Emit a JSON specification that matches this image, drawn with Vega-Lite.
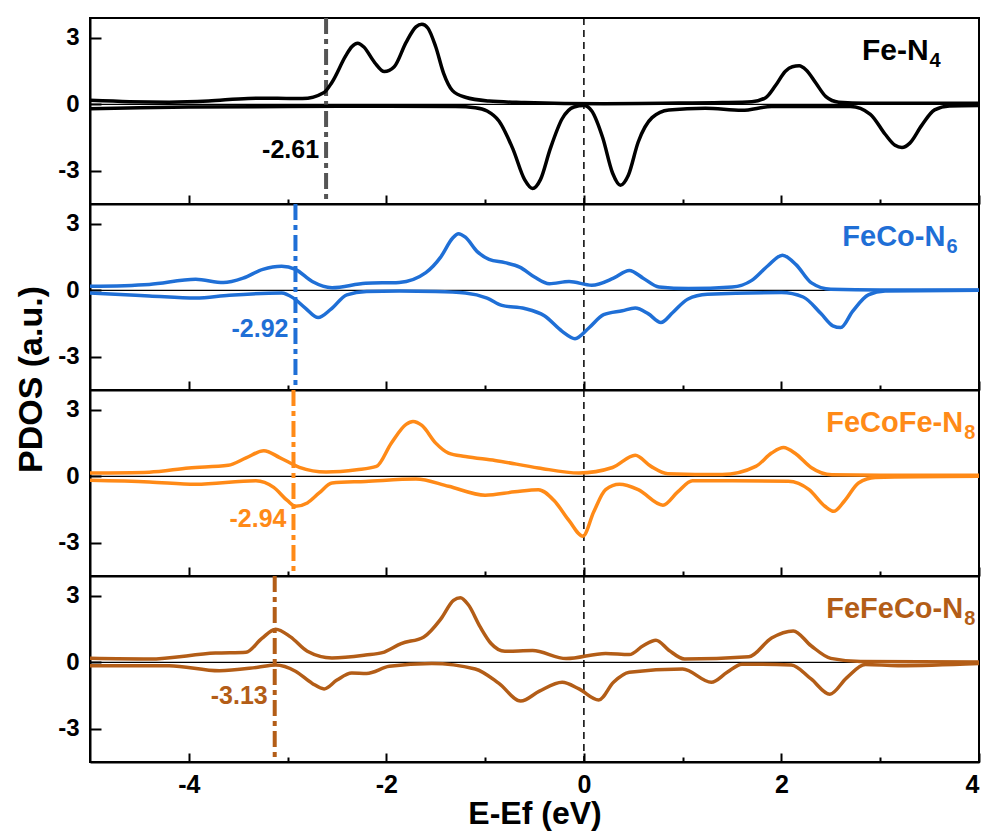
{
  "$schema": "https://vega.github.io/schema/vega-lite/v6.json",
  "padding": {"left": 14, "top": 15, "right": 10, "bottom": 3},
  "spacing": 0,
  "bounds": "flush",
  "title": {"text": "PDOS (a.u.)", "orient": "left", "anchor": "middle", "font": "Liberation Sans", "fontSize": 34, "fontWeight": "bold", "color": "black", "offset": 8, "dx": 43},
  "config": {
    "locale": {"number": {"decimal": ".", "thousands": ",", "grouping": [3], "currency": ["$", ""], "minus": "-"}},
    "view": {"stroke": "black", "strokeWidth": 2},
    "axis": {"domainColor": "black", "domainWidth": 2, "tickColor": "black", "tickWidth": 2, "grid": false,
      "labelFont": "Liberation Sans", "labelFontSize": 24, "labelFontWeight": "bold", "labelColor": "black",
      "titleFont": "Liberation Sans", "titleFontWeight": "bold", "titleColor": "black"},
    "text": {"font": "Liberation Sans"}
  },
  "datasets": {
    "bands": [
      {"panel": 1, "center": -2.61},
      {"panel": 2, "center": -2.92},
      {"panel": 3, "center": -2.94},
      {"panel": 4, "center": -3.13}
    ],
    "p1": [
      {"spin":"up","E":-5.0,"DOS":0.18},{"spin":"up","E":-4.6,"DOS":0.12},{"spin":"up","E":-4.2,"DOS":0.1},{"spin":"up","E":-3.8,"DOS":0.15},{"spin":"up","E":-3.4,"DOS":0.27},{"spin":"up","E":-3.1,"DOS":0.28},{"spin":"up","E":-2.85,"DOS":0.26},{"spin":"up","E":-2.63,"DOS":0.54},{"spin":"up","E":-2.55,"DOS":1.0},{"spin":"up","E":-2.41,"DOS":2.2},{"spin":"up","E":-2.35,"DOS":2.6},{"spin":"up","E":-2.29,"DOS":2.76},{"spin":"up","E":-2.23,"DOS":2.6},{"spin":"up","E":-2.12,"DOS":1.9},{"spin":"up","E":-2.02,"DOS":1.48},{"spin":"up","E":-1.92,"DOS":1.7},{"spin":"up","E":-1.8,"DOS":2.8},{"spin":"up","E":-1.7,"DOS":3.5},{"spin":"up","E":-1.64,"DOS":3.62},{"spin":"up","E":-1.58,"DOS":3.45},{"spin":"up","E":-1.5,"DOS":2.6},{"spin":"up","E":-1.42,"DOS":1.4},{"spin":"up","E":-1.33,"DOS":0.62},{"spin":"up","E":-1.2,"DOS":0.32},{"spin":"up","E":-0.96,"DOS":0.15},{"spin":"up","E":-0.6,"DOS":0.08},{"spin":"up","E":-0.2,"DOS":0.04},{"spin":"up","E":0.2,"DOS":0.03},{"spin":"up","E":0.8,"DOS":0.05},{"spin":"up","E":1.4,"DOS":0.08},{"spin":"up","E":1.7,"DOS":0.12},{"spin":"up","E":1.84,"DOS":0.3},{"spin":"up","E":1.94,"DOS":0.85},{"spin":"up","E":2.04,"DOS":1.5},{"spin":"up","E":2.11,"DOS":1.7},{"spin":"up","E":2.18,"DOS":1.74},{"spin":"up","E":2.25,"DOS":1.55},{"spin":"up","E":2.35,"DOS":0.95},{"spin":"up","E":2.45,"DOS":0.35},{"spin":"up","E":2.58,"DOS":0.1},{"spin":"up","E":2.85,"DOS":0.05},{"spin":"up","E":3.4,"DOS":0.05},{"spin":"up","E":4.0,"DOS":0.05},
      {"spin":"down","E":-5.0,"DOS":-0.2},{"spin":"down","E":-4.5,"DOS":-0.15},{"spin":"down","E":-4.0,"DOS":-0.12},{"spin":"down","E":-3.0,"DOS":-0.1},{"spin":"down","E":-2.0,"DOS":-0.08},{"spin":"down","E":-1.3,"DOS":-0.1},{"spin":"down","E":-1.1,"DOS":-0.15},{"spin":"down","E":-0.98,"DOS":-0.3},{"spin":"down","E":-0.86,"DOS":-0.75},{"spin":"down","E":-0.72,"DOS":-2.0},{"spin":"down","E":-0.6,"DOS":-3.4},{"spin":"down","E":-0.52,"DOS":-3.8},{"spin":"down","E":-0.44,"DOS":-3.4},{"spin":"down","E":-0.34,"DOS":-2.0},{"spin":"down","E":-0.22,"DOS":-0.65},{"spin":"down","E":-0.1,"DOS":-0.12},{"spin":"down","E":0.0,"DOS":-0.05},{"spin":"down","E":0.08,"DOS":-0.3},{"spin":"down","E":0.19,"DOS":-1.5},{"spin":"down","E":0.29,"DOS":-3.1},{"spin":"down","E":0.37,"DOS":-3.65},{"spin":"down","E":0.45,"DOS":-3.2},{"spin":"down","E":0.55,"DOS":-1.7},{"spin":"down","E":0.69,"DOS":-0.6},{"spin":"down","E":0.86,"DOS":-0.25},{"spin":"down","E":1.23,"DOS":-0.18},{"spin":"down","E":1.6,"DOS":-0.27},{"spin":"down","E":1.9,"DOS":-0.1},{"spin":"down","E":2.7,"DOS":-0.1},{"spin":"down","E":2.9,"DOS":-0.45},{"spin":"down","E":3.05,"DOS":-1.35},{"spin":"down","E":3.15,"DOS":-1.85},{"spin":"down","E":3.22,"DOS":-1.95},{"spin":"down","E":3.3,"DOS":-1.75},{"spin":"down","E":3.42,"DOS":-0.95},{"spin":"down","E":3.55,"DOS":-0.25},{"spin":"down","E":3.7,"DOS":-0.07},{"spin":"down","E":4.0,"DOS":-0.05}
    ],
    "p2": [
      {"spin":"up","E":-5.0,"DOS":0.18},{"spin":"up","E":-4.4,"DOS":0.27},{"spin":"up","E":-3.93,"DOS":0.5},{"spin":"up","E":-3.65,"DOS":0.35},{"spin":"up","E":-3.45,"DOS":0.55},{"spin":"up","E":-3.25,"DOS":0.95},{"spin":"up","E":-3.06,"DOS":1.09},{"spin":"up","E":-2.92,"DOS":0.95},{"spin":"up","E":-2.75,"DOS":0.4},{"spin":"up","E":-2.55,"DOS":0.12},{"spin":"up","E":-2.21,"DOS":0.32},{"spin":"up","E":-1.87,"DOS":0.36},{"spin":"up","E":-1.6,"DOS":0.8},{"spin":"up","E":-1.45,"DOS":1.5},{"spin":"up","E":-1.33,"DOS":2.35},{"spin":"up","E":-1.27,"DOS":2.56},{"spin":"up","E":-1.2,"DOS":2.4},{"spin":"up","E":-1.08,"DOS":1.75},{"spin":"up","E":-0.96,"DOS":1.4},{"spin":"up","E":-0.8,"DOS":1.25},{"spin":"up","E":-0.65,"DOS":1.05},{"spin":"up","E":-0.5,"DOS":0.6},{"spin":"up","E":-0.35,"DOS":0.3},{"spin":"up","E":-0.15,"DOS":0.4},{"spin":"up","E":0.08,"DOS":0.23},{"spin":"up","E":0.3,"DOS":0.55},{"spin":"up","E":0.46,"DOS":0.9},{"spin":"up","E":0.6,"DOS":0.55},{"spin":"up","E":0.76,"DOS":0.15},{"spin":"up","E":1.06,"DOS":0.08},{"spin":"up","E":1.5,"DOS":0.15},{"spin":"up","E":1.7,"DOS":0.45},{"spin":"up","E":1.86,"DOS":1.1},{"spin":"up","E":2.01,"DOS":1.59},{"spin":"up","E":2.15,"DOS":1.15},{"spin":"up","E":2.3,"DOS":0.35},{"spin":"up","E":2.5,"DOS":0.05},{"spin":"up","E":3.0,"DOS":0.02},{"spin":"up","E":4.0,"DOS":0.02},
      {"spin":"down","E":-5.0,"DOS":-0.12},{"spin":"down","E":-4.4,"DOS":-0.25},{"spin":"down","E":-3.93,"DOS":-0.35},{"spin":"down","E":-3.59,"DOS":-0.22},{"spin":"down","E":-3.06,"DOS":-0.12},{"spin":"down","E":-2.94,"DOS":-0.35},{"spin":"down","E":-2.82,"DOS":-0.8},{"spin":"down","E":-2.69,"DOS":-1.23},{"spin":"down","E":-2.56,"DOS":-0.85},{"spin":"down","E":-2.4,"DOS":-0.2},{"spin":"down","E":-2.2,"DOS":-0.05},{"spin":"down","E":-1.87,"DOS":-0.03},{"spin":"down","E":-1.5,"DOS":-0.05},{"spin":"down","E":-1.2,"DOS":-0.12},{"spin":"down","E":-0.98,"DOS":-0.35},{"spin":"down","E":-0.83,"DOS":-0.68},{"spin":"down","E":-0.6,"DOS":-0.82},{"spin":"down","E":-0.4,"DOS":-1.15},{"spin":"down","E":-0.22,"DOS":-1.85},{"spin":"down","E":-0.09,"DOS":-2.18},{"spin":"down","E":0.05,"DOS":-1.7},{"spin":"down","E":0.2,"DOS":-1.1},{"spin":"down","E":0.39,"DOS":-0.92},{"spin":"down","E":0.52,"DOS":-0.8},{"spin":"down","E":0.65,"DOS":-1.05},{"spin":"down","E":0.78,"DOS":-1.45},{"spin":"down","E":0.9,"DOS":-1.0},{"spin":"down","E":1.05,"DOS":-0.4},{"spin":"down","E":1.25,"DOS":-0.18},{"spin":"down","E":2.0,"DOS":-0.1},{"spin":"down","E":2.22,"DOS":-0.3},{"spin":"down","E":2.4,"DOS":-1.05},{"spin":"down","E":2.52,"DOS":-1.6},{"spin":"down","E":2.6,"DOS":-1.68},{"spin":"down","E":2.72,"DOS":-0.95},{"spin":"down","E":2.88,"DOS":-0.2},{"spin":"down","E":3.05,"DOS":-0.03},{"spin":"down","E":4.0,"DOS":0.0}
    ],
    "p3": [
      {"spin":"up","E":-5.0,"DOS":0.15},{"spin":"up","E":-4.4,"DOS":0.19},{"spin":"up","E":-4.0,"DOS":0.38},{"spin":"up","E":-3.6,"DOS":0.5},{"spin":"up","E":-3.42,"DOS":0.83},{"spin":"up","E":-3.24,"DOS":1.16},{"spin":"up","E":-3.08,"DOS":0.85},{"spin":"up","E":-2.88,"DOS":0.41},{"spin":"up","E":-2.61,"DOS":0.2},{"spin":"up","E":-2.3,"DOS":0.3},{"spin":"up","E":-2.1,"DOS":0.45},{"spin":"up","E":-1.95,"DOS":1.5},{"spin":"up","E":-1.8,"DOS":2.35},{"spin":"up","E":-1.73,"DOS":2.48},{"spin":"up","E":-1.64,"DOS":2.3},{"spin":"up","E":-1.5,"DOS":1.5},{"spin":"up","E":-1.37,"DOS":1.05},{"spin":"up","E":-1.2,"DOS":0.9},{"spin":"up","E":-0.9,"DOS":0.72},{"spin":"up","E":-0.46,"DOS":0.38},{"spin":"up","E":-0.05,"DOS":0.15},{"spin":"up","E":0.29,"DOS":0.4},{"spin":"up","E":0.52,"DOS":0.95},{"spin":"up","E":0.68,"DOS":0.45},{"spin":"up","E":0.85,"DOS":0.12},{"spin":"up","E":1.4,"DOS":0.08},{"spin":"up","E":1.74,"DOS":0.45},{"spin":"up","E":1.9,"DOS":1.05},{"spin":"up","E":2.02,"DOS":1.3},{"spin":"up","E":2.15,"DOS":1.0},{"spin":"up","E":2.3,"DOS":0.4},{"spin":"up","E":2.51,"DOS":0.07},{"spin":"up","E":3.0,"DOS":0.05},{"spin":"up","E":4.0,"DOS":0.05},
      {"spin":"down","E":-5.0,"DOS":-0.18},{"spin":"down","E":-4.4,"DOS":-0.25},{"spin":"down","E":-3.93,"DOS":-0.36},{"spin":"down","E":-3.32,"DOS":-0.2},{"spin":"down","E":-3.14,"DOS":-0.5},{"spin":"down","E":-3.0,"DOS":-1.1},{"spin":"down","E":-2.92,"DOS":-1.35},{"spin":"down","E":-2.8,"DOS":-1.2},{"spin":"down","E":-2.68,"DOS":-0.75},{"spin":"down","E":-2.55,"DOS":-0.3},{"spin":"down","E":-2.21,"DOS":-0.23},{"spin":"down","E":-1.7,"DOS":-0.12},{"spin":"down","E":-1.37,"DOS":-0.45},{"spin":"down","E":-1.0,"DOS":-0.85},{"spin":"down","E":-0.7,"DOS":-0.7},{"spin":"down","E":-0.46,"DOS":-0.6},{"spin":"down","E":-0.3,"DOS":-1.1},{"spin":"down","E":-0.15,"DOS":-2.0},{"spin":"down","E":-0.01,"DOS":-2.7},{"spin":"down","E":0.1,"DOS":-1.6},{"spin":"down","E":0.22,"DOS":-0.6},{"spin":"down","E":0.36,"DOS":-0.36},{"spin":"down","E":0.55,"DOS":-0.6},{"spin":"down","E":0.8,"DOS":-1.3},{"spin":"down","E":0.95,"DOS":-0.7},{"spin":"down","E":1.1,"DOS":-0.2},{"spin":"down","E":2.07,"DOS":-0.22},{"spin":"down","E":2.28,"DOS":-0.6},{"spin":"down","E":2.44,"DOS":-1.35},{"spin":"down","E":2.53,"DOS":-1.58},{"spin":"down","E":2.64,"DOS":-1.1},{"spin":"down","E":2.78,"DOS":-0.3},{"spin":"down","E":2.95,"DOS":-0.05},{"spin":"down","E":4.0,"DOS":0.0}
    ],
    "p4": [
      {"spin":"up","E":-5.0,"DOS":0.18},{"spin":"up","E":-4.4,"DOS":0.15},{"spin":"up","E":-3.73,"DOS":0.42},{"spin":"up","E":-3.42,"DOS":0.46},{"spin":"up","E":-3.26,"DOS":1.08},{"spin":"up","E":-3.12,"DOS":1.5},{"spin":"up","E":-2.97,"DOS":1.15},{"spin":"up","E":-2.8,"DOS":0.5},{"spin":"up","E":-2.55,"DOS":0.2},{"spin":"up","E":-2.21,"DOS":0.33},{"spin":"up","E":-2.04,"DOS":0.44},{"spin":"up","E":-1.85,"DOS":0.85},{"spin":"up","E":-1.62,"DOS":1.15},{"spin":"up","E":-1.45,"DOS":1.95},{"spin":"up","E":-1.32,"DOS":2.8},{"spin":"up","E":-1.25,"DOS":2.92},{"spin":"up","E":-1.17,"DOS":2.6},{"spin":"up","E":-1.05,"DOS":1.6},{"spin":"up","E":-0.94,"DOS":0.85},{"spin":"up","E":-0.8,"DOS":0.5},{"spin":"up","E":-0.52,"DOS":0.53},{"spin":"up","E":-0.18,"DOS":0.17},{"spin":"up","E":0.22,"DOS":0.4},{"spin":"up","E":0.46,"DOS":0.35},{"spin":"up","E":0.6,"DOS":0.75},{"spin":"up","E":0.73,"DOS":1.0},{"spin":"up","E":0.86,"DOS":0.55},{"spin":"up","E":1.02,"DOS":0.15},{"spin":"up","E":1.67,"DOS":0.25},{"spin":"up","E":1.9,"DOS":1.1},{"spin":"up","E":2.12,"DOS":1.42},{"spin":"up","E":2.3,"DOS":0.75},{"spin":"up","E":2.5,"DOS":0.18},{"spin":"up","E":2.8,"DOS":0.04},{"spin":"up","E":4.0,"DOS":0.02},
      {"spin":"down","E":-5.0,"DOS":-0.15},{"spin":"down","E":-4.2,"DOS":-0.15},{"spin":"down","E":-3.69,"DOS":-0.38},{"spin":"down","E":-3.3,"DOS":-0.22},{"spin":"down","E":-3.12,"DOS":-0.12},{"spin":"down","E":-2.92,"DOS":-0.4},{"spin":"down","E":-2.75,"DOS":-0.95},{"spin":"down","E":-2.63,"DOS":-1.2},{"spin":"down","E":-2.5,"DOS":-0.8},{"spin":"down","E":-2.35,"DOS":-0.48},{"spin":"down","E":-2.2,"DOS":-0.5},{"spin":"down","E":-1.97,"DOS":-0.18},{"spin":"down","E":-1.54,"DOS":-0.05},{"spin":"down","E":-1.1,"DOS":-0.3},{"spin":"down","E":-0.86,"DOS":-0.95},{"spin":"down","E":-0.64,"DOS":-1.75},{"spin":"down","E":-0.45,"DOS":-1.3},{"spin":"down","E":-0.22,"DOS":-0.9},{"spin":"down","E":-0.05,"DOS":-1.2},{"spin":"down","E":0.15,"DOS":-1.7},{"spin":"down","E":0.3,"DOS":-0.9},{"spin":"down","E":0.46,"DOS":-0.45},{"spin":"down","E":1.0,"DOS":-0.3},{"spin":"down","E":1.29,"DOS":-0.9},{"spin":"down","E":1.45,"DOS":-0.45},{"spin":"down","E":1.6,"DOS":-0.08},{"spin":"down","E":2.1,"DOS":-0.12},{"spin":"down","E":2.3,"DOS":-0.75},{"spin":"down","E":2.49,"DOS":-1.44},{"spin":"down","E":2.66,"DOS":-0.7},{"spin":"down","E":2.85,"DOS":-0.1},{"spin":"down","E":3.18,"DOS":-0.15},{"spin":"down","E":4.0,"DOS":-0.05}
    ]
  },
  "vconcat": [
    {
      "width": 889, "height": 186,
      "resolve": {"axis": {"x": "independent", "y": "independent"}},
      "layer": [
        {"data": {"values": [{}]}, "mark": {"type": "rule", "color": "black", "strokeWidth": 1.2},
          "encoding": {"y": {"datum": 0, "type": "quantitative", "scale": {"domain": [-4.5, 3.9], "nice": false, "zero": false}, "axis": null}}},
        {"data": {"values": [{}]}, "mark": {"type": "rule", "color": "black", "strokeWidth": 1.5, "strokeDash": [7, 5]},
          "encoding": {"x": {"datum": 0, "type": "quantitative", "scale": {"domain": [-5, 4], "nice": false, "zero": false},
            "axis": {"orient": "bottom", "values": [-3, -1, 1, 3], "tickSize": -5, "labels": false, "domain": false, "title": null}}}},
        {"data": {"name": "bands"}, "transform": [{"filter": "datum.panel == 1"}],
          "mark": {"type": "rule", "color": "#555555", "strokeWidth": 4, "strokeDash": [16, 5, 5, 5]},
          "encoding": {"x": {"field": "center", "type": "quantitative", "scale": {"domain": [-5, 4], "nice": false, "zero": false}, "axis": null}}},
        {"data": {"name": "bands"}, "transform": [{"filter": "datum.panel == 1"}],
          "mark": {"type": "text", "align": "right", "baseline": "middle", "dx": -7, "fontSize": 25, "fontWeight": "bold", "color": "black"},
          "encoding": {"x": {"field": "center", "type": "quantitative", "scale": {"domain": [-5, 4], "nice": false, "zero": false}, "axis": null},
            "y": {"datum": -2.07, "type": "quantitative", "scale": {"domain": [-4.5, 3.9], "nice": false, "zero": false}, "axis": null},
            "text": {"field": "center", "format": ".2f"}}},
        {"data": {"name": "p1"}, "mark": {"type": "line", "color": "black", "strokeWidth": 3.5, "interpolate": "monotone"},
          "encoding": {"x": {"field": "E", "type": "quantitative", "scale": {"domain": [-5, 4], "nice": false, "zero": false},
              "axis": {"orient": "bottom", "values": [-4, -2, 0, 2, 4], "tickSize": -9, "labels": false, "title": null}},
            "y": {"field": "DOS", "type": "quantitative", "scale": {"domain": [-4.5, 3.9], "nice": false, "zero": false},
              "axis": {"orient": "left", "values": [-3, 0, 3], "tickSize": -11, "labelPadding": 22, "title": null}},
            "detail": {"field": "spin"}}},
        {"data": {"values": [{}]}, "mark": {"type": "text", "align": "right", "baseline": "middle", "fontSize": 30, "fontWeight": "bold", "color": "black"},
          "encoding": {"x": {"datum": 3.49, "type": "quantitative", "scale": {"domain": [-5, 4], "nice": false, "zero": false}, "axis": null},
            "y": {"datum": 2.4, "type": "quantitative", "scale": {"domain": [-4.5, 3.9], "nice": false, "zero": false}, "axis": null},
            "text": {"value": "Fe-N"}}},
        {"data": {"values": [{}]}, "mark": {"type": "text", "align": "left", "baseline": "middle", "dx": 1, "dy": 10, "fontSize": 20, "fontWeight": "bold", "color": "black"},
          "encoding": {"x": {"datum": 3.49, "type": "quantitative", "scale": {"domain": [-5, 4], "nice": false, "zero": false}, "axis": null},
            "y": {"datum": 2.4, "type": "quantitative", "scale": {"domain": [-4.5, 3.9], "nice": false, "zero": false}, "axis": null},
            "text": {"value": "4"}}}
      ]
    },
    {
      "width": 889, "height": 186,
      "resolve": {"axis": {"x": "independent", "y": "independent"}},
      "layer": [
        {"data": {"values": [{}]}, "mark": {"type": "rule", "color": "black", "strokeWidth": 1.2},
          "encoding": {"y": {"datum": 0, "type": "quantitative", "scale": {"domain": [-4.5, 3.9], "nice": false, "zero": false}, "axis": null}}},
        {"data": {"values": [{}]}, "mark": {"type": "rule", "color": "black", "strokeWidth": 1.5, "strokeDash": [7, 5]},
          "encoding": {"x": {"datum": 0, "type": "quantitative", "scale": {"domain": [-5, 4], "nice": false, "zero": false},
            "axis": {"orient": "bottom", "values": [-3, -1, 1, 3], "tickSize": -5, "labels": false, "domain": false, "title": null}}}},
        {"data": {"name": "bands"}, "transform": [{"filter": "datum.panel == 2"}],
          "mark": {"type": "rule", "color": "#1f6fd6", "strokeWidth": 4, "strokeDash": [16, 5, 5, 5]},
          "encoding": {"x": {"field": "center", "type": "quantitative", "scale": {"domain": [-5, 4], "nice": false, "zero": false}, "axis": null}}},
        {"data": {"name": "bands"}, "transform": [{"filter": "datum.panel == 2"}],
          "mark": {"type": "text", "align": "right", "baseline": "middle", "dx": -7, "fontSize": 25, "fontWeight": "bold", "color": "#1f6fd6"},
          "encoding": {"x": {"field": "center", "type": "quantitative", "scale": {"domain": [-5, 4], "nice": false, "zero": false}, "axis": null},
            "y": {"datum": -1.73, "type": "quantitative", "scale": {"domain": [-4.5, 3.9], "nice": false, "zero": false}, "axis": null},
            "text": {"field": "center", "format": ".2f"}}},
        {"data": {"name": "p2"}, "mark": {"type": "line", "color": "#1f6fd6", "strokeWidth": 3.5, "interpolate": "monotone"},
          "encoding": {"x": {"field": "E", "type": "quantitative", "scale": {"domain": [-5, 4], "nice": false, "zero": false},
              "axis": {"orient": "bottom", "values": [-4, -2, 0, 2, 4], "tickSize": -9, "labels": false, "title": null}},
            "y": {"field": "DOS", "type": "quantitative", "scale": {"domain": [-4.5, 3.9], "nice": false, "zero": false},
              "axis": {"orient": "left", "values": [-3, 0, 3], "tickSize": -11, "labelPadding": 22, "title": null}},
            "detail": {"field": "spin"}}},
        {"data": {"values": [{}]}, "mark": {"type": "text", "align": "right", "baseline": "middle", "fontSize": 29, "fontWeight": "bold", "color": "#1f6fd6"},
          "encoding": {"x": {"datum": 3.66, "type": "quantitative", "scale": {"domain": [-5, 4], "nice": false, "zero": false}, "axis": null},
            "y": {"datum": 2.4, "type": "quantitative", "scale": {"domain": [-4.5, 3.9], "nice": false, "zero": false}, "axis": null},
            "text": {"value": "FeCo-N"}}},
        {"data": {"values": [{}]}, "mark": {"type": "text", "align": "left", "baseline": "middle", "dx": 1, "dy": 10, "fontSize": 20, "fontWeight": "bold", "color": "#1f6fd6"},
          "encoding": {"x": {"datum": 3.66, "type": "quantitative", "scale": {"domain": [-5, 4], "nice": false, "zero": false}, "axis": null},
            "y": {"datum": 2.4, "type": "quantitative", "scale": {"domain": [-4.5, 3.9], "nice": false, "zero": false}, "axis": null},
            "text": {"value": "6"}}}
      ]
    },
    {
      "width": 889, "height": 186,
      "resolve": {"axis": {"x": "independent", "y": "independent"}},
      "layer": [
        {"data": {"values": [{}]}, "mark": {"type": "rule", "color": "black", "strokeWidth": 1.2},
          "encoding": {"y": {"datum": 0, "type": "quantitative", "scale": {"domain": [-4.5, 3.9], "nice": false, "zero": false}, "axis": null}}},
        {"data": {"values": [{}]}, "mark": {"type": "rule", "color": "black", "strokeWidth": 1.5, "strokeDash": [7, 5]},
          "encoding": {"x": {"datum": 0, "type": "quantitative", "scale": {"domain": [-5, 4], "nice": false, "zero": false},
            "axis": {"orient": "bottom", "values": [-3, -1, 1, 3], "tickSize": -5, "labels": false, "domain": false, "title": null}}}},
        {"data": {"name": "bands"}, "transform": [{"filter": "datum.panel == 3"}],
          "mark": {"type": "rule", "color": "#ff8a17", "strokeWidth": 4, "strokeDash": [16, 5, 5, 5]},
          "encoding": {"x": {"field": "center", "type": "quantitative", "scale": {"domain": [-5, 4], "nice": false, "zero": false}, "axis": null}}},
        {"data": {"name": "bands"}, "transform": [{"filter": "datum.panel == 3"}],
          "mark": {"type": "text", "align": "right", "baseline": "middle", "dx": -7, "fontSize": 25, "fontWeight": "bold", "color": "#ff8a17"},
          "encoding": {"x": {"field": "center", "type": "quantitative", "scale": {"domain": [-5, 4], "nice": false, "zero": false}, "axis": null},
            "y": {"datum": -1.94, "type": "quantitative", "scale": {"domain": [-4.5, 3.9], "nice": false, "zero": false}, "axis": null},
            "text": {"field": "center", "format": ".2f"}}},
        {"data": {"name": "p3"}, "mark": {"type": "line", "color": "#ff8a17", "strokeWidth": 3.5, "interpolate": "monotone"},
          "encoding": {"x": {"field": "E", "type": "quantitative", "scale": {"domain": [-5, 4], "nice": false, "zero": false},
              "axis": {"orient": "bottom", "values": [-4, -2, 0, 2, 4], "tickSize": -9, "labels": false, "title": null}},
            "y": {"field": "DOS", "type": "quantitative", "scale": {"domain": [-4.5, 3.9], "nice": false, "zero": false},
              "axis": {"orient": "left", "values": [-3, 0, 3], "tickSize": -11, "labelPadding": 22, "title": null}},
            "detail": {"field": "spin"}}},
        {"data": {"values": [{}]}, "mark": {"type": "text", "align": "right", "baseline": "middle", "fontSize": 29, "fontWeight": "bold", "color": "#ff8a17"},
          "encoding": {"x": {"datum": 3.84, "type": "quantitative", "scale": {"domain": [-5, 4], "nice": false, "zero": false}, "axis": null},
            "y": {"datum": 2.4, "type": "quantitative", "scale": {"domain": [-4.5, 3.9], "nice": false, "zero": false}, "axis": null},
            "text": {"value": "FeCoFe-N"}}},
        {"data": {"values": [{}]}, "mark": {"type": "text", "align": "left", "baseline": "middle", "dx": 1, "dy": 10, "fontSize": 20, "fontWeight": "bold", "color": "#ff8a17"},
          "encoding": {"x": {"datum": 3.84, "type": "quantitative", "scale": {"domain": [-5, 4], "nice": false, "zero": false}, "axis": null},
            "y": {"datum": 2.4, "type": "quantitative", "scale": {"domain": [-4.5, 3.9], "nice": false, "zero": false}, "axis": null},
            "text": {"value": "8"}}}
      ]
    },
    {
      "width": 889, "height": 186,
      "resolve": {"axis": {"x": "independent", "y": "independent"}},
      "layer": [
        {"data": {"values": [{}]}, "mark": {"type": "rule", "color": "black", "strokeWidth": 1.2},
          "encoding": {"y": {"datum": 0, "type": "quantitative", "scale": {"domain": [-4.5, 3.9], "nice": false, "zero": false}, "axis": null}}},
        {"data": {"values": [{}]}, "mark": {"type": "rule", "color": "black", "strokeWidth": 1.5, "strokeDash": [7, 5]},
          "encoding": {"x": {"datum": 0, "type": "quantitative", "scale": {"domain": [-5, 4], "nice": false, "zero": false},
            "axis": {"orient": "bottom", "values": [-3, -1, 1, 3], "tickSize": -5, "labels": false, "domain": false, "title": null}}}},
        {"data": {"name": "bands"}, "transform": [{"filter": "datum.panel == 4"}],
          "mark": {"type": "rule", "color": "#b35d17", "strokeWidth": 4, "strokeDash": [16, 5, 5, 5]},
          "encoding": {"x": {"field": "center", "type": "quantitative", "scale": {"domain": [-5, 4], "nice": false, "zero": false}, "axis": null}}},
        {"data": {"name": "bands"}, "transform": [{"filter": "datum.panel == 4"}],
          "mark": {"type": "text", "align": "right", "baseline": "middle", "dx": -7, "fontSize": 25, "fontWeight": "bold", "color": "#b35d17"},
          "encoding": {"x": {"field": "center", "type": "quantitative", "scale": {"domain": [-5, 4], "nice": false, "zero": false}, "axis": null},
            "y": {"datum": -1.52, "type": "quantitative", "scale": {"domain": [-4.5, 3.9], "nice": false, "zero": false}, "axis": null},
            "text": {"field": "center", "format": ".2f"}}},
        {"data": {"name": "p4"}, "mark": {"type": "line", "color": "#b35d17", "strokeWidth": 3.5, "interpolate": "monotone"},
          "encoding": {"x": {"field": "E", "type": "quantitative", "scale": {"domain": [-5, 4], "nice": false, "zero": false},
              "axis": {"orient": "bottom", "values": [-4, -2, 0, 2, 4], "tickSize": -9, "labels": true, "labelPadding": 19, "labelFontSize": 25, "format": "d",
                "title": "E-Ef (eV)", "titleFontSize": 32, "titlePadding": 1}},
            "y": {"field": "DOS", "type": "quantitative", "scale": {"domain": [-4.5, 3.9], "nice": false, "zero": false},
              "axis": {"orient": "left", "values": [-3, 0, 3], "tickSize": -11, "labelPadding": 22, "title": null}},
            "detail": {"field": "spin"}}},
        {"data": {"values": [{}]}, "mark": {"type": "text", "align": "right", "baseline": "middle", "fontSize": 29, "fontWeight": "bold", "color": "#b35d17"},
          "encoding": {"x": {"datum": 3.84, "type": "quantitative", "scale": {"domain": [-5, 4], "nice": false, "zero": false}, "axis": null},
            "y": {"datum": 2.4, "type": "quantitative", "scale": {"domain": [-4.5, 3.9], "nice": false, "zero": false}, "axis": null},
            "text": {"value": "FeFeCo-N"}}},
        {"data": {"values": [{}]}, "mark": {"type": "text", "align": "left", "baseline": "middle", "dx": 1, "dy": 10, "fontSize": 20, "fontWeight": "bold", "color": "#b35d17"},
          "encoding": {"x": {"datum": 3.84, "type": "quantitative", "scale": {"domain": [-5, 4], "nice": false, "zero": false}, "axis": null},
            "y": {"datum": 2.4, "type": "quantitative", "scale": {"domain": [-4.5, 3.9], "nice": false, "zero": false}, "axis": null},
            "text": {"value": "8"}}}
      ]
    }
  ]
}
